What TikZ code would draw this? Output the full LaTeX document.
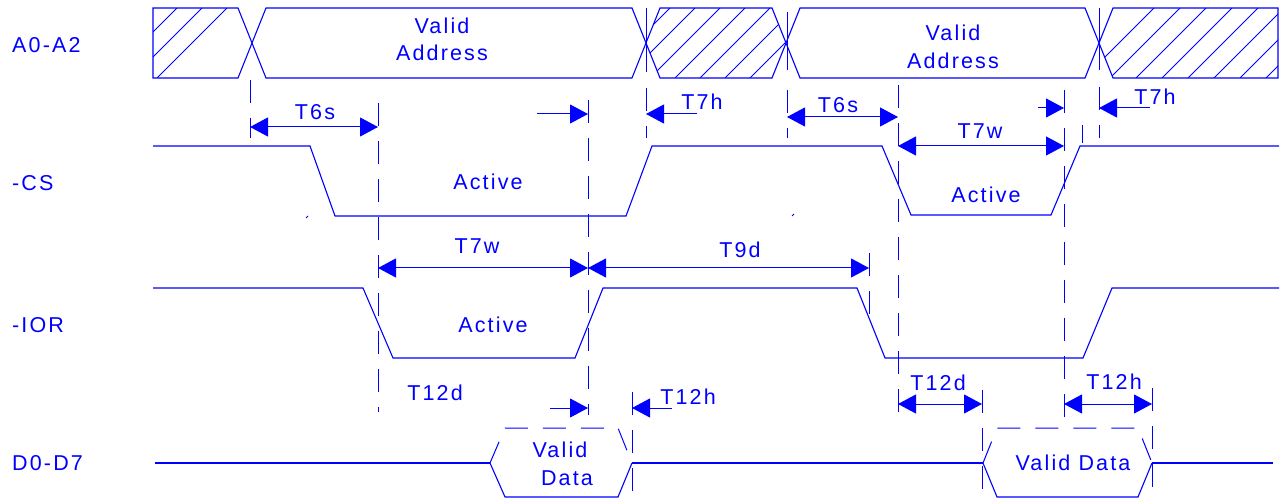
\documentclass[tikz,border=0pt]{standalone}
\usepackage{fontspec}
\setmainfont{Liberation Sans}
\newfontfamily\lblfont[LetterSpace=10]{Liberation Sans}
\usetikzlibrary{arrows.meta}
\definecolor{wblue}{RGB}{0,0,255}
\tikzset{
  wave/.style={draw=wblue, line width=1.1pt},
  tline/.style={draw=wblue, line width=1pt, dash pattern=on 23pt off 15pt},
  hatchln/.style={draw=wblue, line width=0.8pt},
  dim/.style={draw=wblue, line width=1pt, {Triangle[length=18pt,width=19pt]}-{Triangle[length=18pt,width=19pt]}},
  rarr/.style={draw=wblue, line width=1pt, -{Triangle[length=18pt,width=19pt]}},
  larr/.style={draw=wblue, line width=1pt, {Triangle[length=18pt,width=19pt]}-},
  lbl/.style={text=wblue, inner sep=0pt},
}
\begin{document}
\begin{tikzpicture}[x=1pt, y=-1pt, font=\lblfont\fontsize{21.5}{24}\selectfont]
\useasboundingbox (0,0) rectangle (1287,502);

% ---------- A0-A2 bus ----------
\begin{scope}
  \clip (153,8) -- (238,8) -- (252,43) -- (238,78) -- (153,78) -- cycle;
  \foreach \k in {-4,...,0} \draw[hatchln] (157+25*\k,78) -- ++(70,-70);
\end{scope}
\begin{scope}
  \clip (646,43) -- (660,8) -- (772,8) -- (786,43) -- (772,78) -- (660,78) -- cycle;
  \foreach \k in {-3,...,4} \draw[hatchln] (675+25*\k,78) -- ++(70,-70);
\end{scope}
\begin{scope}
  \clip (1099,43) -- (1113,8) -- (1278,8) -- (1278,78) -- (1113,78) -- cycle;
  \foreach \k in {-2,...,6} \draw[hatchln] (1136+26*\k,78) -- ++(70,-70);
\end{scope}
\draw[wave] (153,8) -- (238,8) -- (266,78) -- (632,78) -- (660,8) -- (772,8) -- (800,78)
  -- (1085,78) -- (1113,8) -- (1278,8) -- (1278,78) -- (1113,78) -- (1085,8) -- (800,8)
  -- (772,78) -- (660,78) -- (632,8) -- (266,8) -- (238,78) -- (153,78) -- cycle;

% ---------- -CS ----------
\draw[wave] (153,146) -- (310,146) -- (335,216) -- (626,216) -- (652,146) -- (882,146)
  -- (911,215) -- (1051,215) -- (1080,146) -- (1279,146);
\draw[wblue, line width=0.8pt] (306,218) -- (308,216);
\draw[wblue, line width=0.8pt] (792,216) -- (794,214);

% ---------- -IOR ----------
\draw[wave] (153,288) -- (363,288) -- (393,358) -- (575,358) -- (603,288) -- (857,288)
  -- (885,358) -- (1083,358) -- (1112,288) -- (1279,288);

% ---------- D0-D7 ----------
\draw[wave] (155,463) -- (490,463);
\draw[wave] (490,463) -- (505,497) -- (618,497) -- (632,463);
\draw[tline] (490,463) -- (505,428) -- (618,428) -- (632,463);
\draw[wave] (632,463) -- (983,463);
\draw[wave] (983,463) -- (997,497) -- (1138,497) -- (1152,463);
\draw[tline] (983,463) -- (997,428) -- (1138,428) -- (1152,463);
\draw[wave] (1152,463) -- (1273,463);

% ---------- timing reference lines ----------
\draw[tline] (250,80) -- (250,138);
\draw[tline] (378,103) -- (378,412);
\draw[tline] (588,100) -- (588,415);
\draw[wblue, line width=1pt] (646,8) -- (646,72);
\draw[tline] (646,88) -- (646,138);
\draw[wblue, line width=1pt] (787,12) -- (787,70);
\draw[tline] (787,90) -- (787,138);
\draw[wblue, line width=1pt] (1099,8) -- (1099,70);
\draw[tline] (1099,87) -- (1099,138);
\draw[tline] (898,85) -- (898,415);
\draw[tline] (1064,90) -- (1064,420);
\draw[tline] (869,253) -- (869,322);
\draw[tline] (632,392) -- (632,492);
\draw[tline] (982,390) -- (982,490);
\draw[tline] (1152,388) -- (1152,490);
\draw[tline] (1082,125) -- (1082,143);

% ---------- dimension arrows ----------
\draw[dim] (250,127) -- (378,127);
\draw[rarr] (537,114) -- (588,114);
\draw[larr] (646,114) -- (697,114);
\draw[dim] (787,117) -- (898,117);
\draw[rarr] (1038,108) -- (1064,108);
\draw[larr] (1099,108) -- (1150,108);
\draw[dim] (898,146) -- (1064,146);
\draw[dim] (378,268) -- (588,268);
\draw[dim] (588,268) -- (869,268);
\draw[rarr] (550,408) -- (588,408);
\draw[larr] (632,408) -- (672,408);
\draw[dim] (898,404) -- (982,404);
\draw[dim] (1064,404) -- (1152,404);

% ---------- labels ----------
\node[lbl, anchor=west] (la) at (12,45) {A0-A2};
\node[lbl, anchor=west] (lcs) at (12,183) {-CS};
\node[lbl, anchor=west] (lior) at (12,325) {-IOR};
\node[lbl, anchor=west] (ld) at (12,463) {D0-D7};

\node[lbl] (va1) at (442,26) {Valid};
\node[lbl] (ad1) at (442,53) {Address};
\node[lbl] (va2) at (953,33) {Valid};
\node[lbl] (ad2) at (953,61) {Address};

\node[lbl] (ac1) at (488,182) {Active};
\node[lbl] (ac2) at (986,195) {Active};
\node[lbl] (ac3) at (493,325) {Active};

\node[lbl] (vd1) at (560,450) {Valid};
\node[lbl] (dd1) at (567,478) {Data};
\node[lbl] (vd2) at (1073,463) {Valid Data};

\node[lbl] (t6s1) at (315,112) {T6s};
\node[lbl] (t7h1) at (702,102) {T7h};
\node[lbl] (t6s2) at (838,105) {T6s};
\node[lbl] (t7h2) at (1155,97) {T7h};
\node[lbl] (t7w2) at (980,131) {T7w};
\node[lbl] (t7w1) at (477,246) {T7w};
\node[lbl] (t9d) at (740,250) {T9d};
\node[lbl] (t12d1) at (435,393) {T12d};
\node[lbl] (t12h1) at (688,397) {T12h};
\node[lbl] (t12d2) at (938,383) {T12d};
\node[lbl] (t12h2) at (1114,382) {T12h};
\end{tikzpicture}
\end{document}
